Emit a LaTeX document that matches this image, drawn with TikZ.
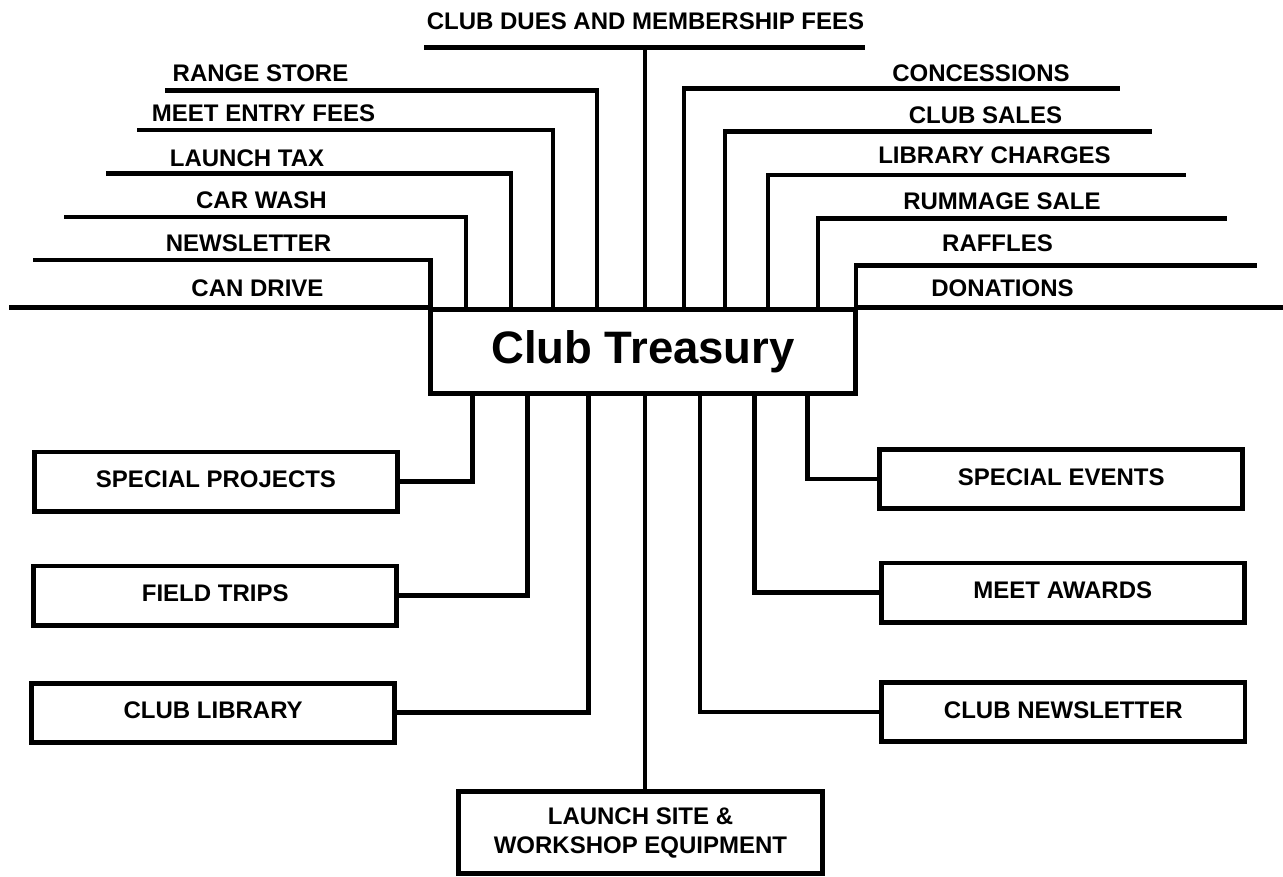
\documentclass[tikz,border=0pt]{standalone}
\usepackage{fontspec}
\setmainfont{Liberation Sans}
\begin{document}
\begin{tikzpicture}[x=1pt,y=-1pt,
  wire/.style={line width=4.8pt, line join=miter, line cap=butt},
  lab/.style={font=\fontsize{24}{28.8}\selectfont\bfseries, inner sep=0pt, anchor=base},
  boxbase/.style={draw, line width=4.8pt, inner sep=0pt, minimum width=363.2pt, minimum height=59.2pt, font=\fontsize{24}{28.8}\selectfont\bfseries},
  capbox/.style={boxbase, text height=17.2pt, text depth=5pt},
]
\useasboundingbox (0,0) rectangle (1283,877);

% central box
\node[boxbase, minimum width=425.2pt, minimum height=84.2pt, font=\fontsize{45.5}{50}\selectfont\bfseries] (ct) at (643,351.5) {Club Treasury};

% destination boxes
\node[capbox] (sp) at (216,481.5) {SPECIAL PROJECTS};
\node[capbox] (ft) at (215.2,595.5) {FIELD TRIPS};
\node[capbox] (cl) at (213.2,712.8) {CLUB LIBRARY};
\node[capbox] (se) at (1061.2,479) {SPECIAL EVENTS};
\node[capbox] (ma) at (1062.8,592.5) {MEET AWARDS};
\node[capbox] (cn) at (1063.3,712) {CLUB NEWSLETTER};
\node[boxbase, minimum width=364.2pt, minimum height=81.9pt, align=center, font=\fontsize{24}{29.3}\selectfont\bfseries] (ls) at (640.5,832.7) {LAUNCH SITE \&\\WORKSHOP EQUIPMENT};

% income labels (left)
\node[lab] (t1) at (257.5,296.7) {CAN DRIVE};
\node[lab] (t2) at (248.5,251.7) {NEWSLETTER};
\node[lab] (t3) at (261.5,209) {CAR WASH};
\node[lab] (t4) at (247,166.7) {LAUNCH TAX};
\node[lab] (t5) at (263.5,121.7) {MEET ENTRY FEES};
\node[lab] (t6) at (260.5,81.7) {RANGE STORE};
\node[lab] (t7) at (645.5,30) {CLUB DUES AND MEMBERSHIP FEES};
% income labels (right)
\node[lab] (t8) at (981,81.7) {CONCESSIONS};
\node[lab] (t9) at (985.5,124) {CLUB SALES};
\node[lab] (t10) at (994.5,163.3) {LIBRARY CHARGES};
\node[lab] (t11) at (1002,210) {RUMMAGE SALE};
\node[lab] (t12) at (997.5,251.7) {RAFFLES};
\node[lab] (t13) at (1002.5,296.7) {DONATIONS};

% free ends and corners of the income lines
\coordinate (e1) at (9,307.2);
\coordinate (k2) at (430.4,260);   \coordinate (e2) at (33,260);
\coordinate (k3) at (466,217);     \coordinate (e3) at (64,217);
\coordinate (k4) at (511,173.7);   \coordinate (e4) at (106,173.7);
\coordinate (k5) at (553,130);     \coordinate (e5) at (137,130);
\coordinate (k6) at (597,90.7);    \coordinate (e6) at (165,90.7);
\coordinate (k7) at (645,47.7);    \coordinate (e7l) at (424,47.7); \coordinate (e7r) at (865,47.7);
\coordinate (k8) at (684,88.3);    \coordinate (e8) at (1120,88.3);
\coordinate (k9) at (725,131.7);   \coordinate (e9) at (1152,131.7);
\coordinate (k10) at (768,175);    \coordinate (e10) at (1186,175);
\coordinate (k11) at (818,218.3);  \coordinate (e11) at (1227,218.3);
\coordinate (k12) at (856,265.7);  \coordinate (e12) at (1257,265.7);
\coordinate (e13) at (1283,307.2);

\draw[wire] (e1) -- (e1 -| ct.west);
\draw[wire] (ct.north -| k2) -- (k2) -- (e2);
\draw[wire] (ct.north -| k3) -- (k3) -- (e3);
\draw[wire] (ct.north -| k4) -- (k4) -- (e4);
\draw[wire] (ct.north -| k5) -- (k5) -- (e5);
\draw[wire] (ct.north -| k6) -- (k6) -- (e6);
\draw[wire] (ct.north -| k7) -- (k7);
\draw[wire] (e7l) -- (e7r);
\draw[wire] (ct.north -| k8) -- (k8) -- (e8);
\draw[wire] (ct.north -| k9) -- (k9) -- (e9);
\draw[wire] (ct.north -| k10) -- (k10) -- (e10);
\draw[wire] (ct.north -| k11) -- (k11) -- (e11);
\draw[wire] (ct.north -| k12) -- (k12) -- (e12);
\draw[wire] (e13) -- (e13 -| ct.east);

% expense connectors
\coordinate (b1) at (472.7,0);
\coordinate (b2) at (527.5,0);
\coordinate (b3) at (588.5,0);
\coordinate (b4) at (645,0);
\coordinate (b5) at (700,0);
\coordinate (b6) at (754.3,0);
\coordinate (b7) at (807.5,0);
\draw[wire] (ct.south -| b1) |- (sp.east);
\draw[wire] (ct.south -| b2) |- (ft.east);
\draw[wire] (ct.south -| b3) |- (cl.east);
\draw[wire] (ct.south -| b4) -- (ls.north -| b4);
\draw[wire] (ct.south -| b5) |- (cn.west);
\draw[wire] (ct.south -| b6) |- (ma.west);
\draw[wire] (ct.south -| b7) |- (se.west);
\end{tikzpicture}
\end{document}
